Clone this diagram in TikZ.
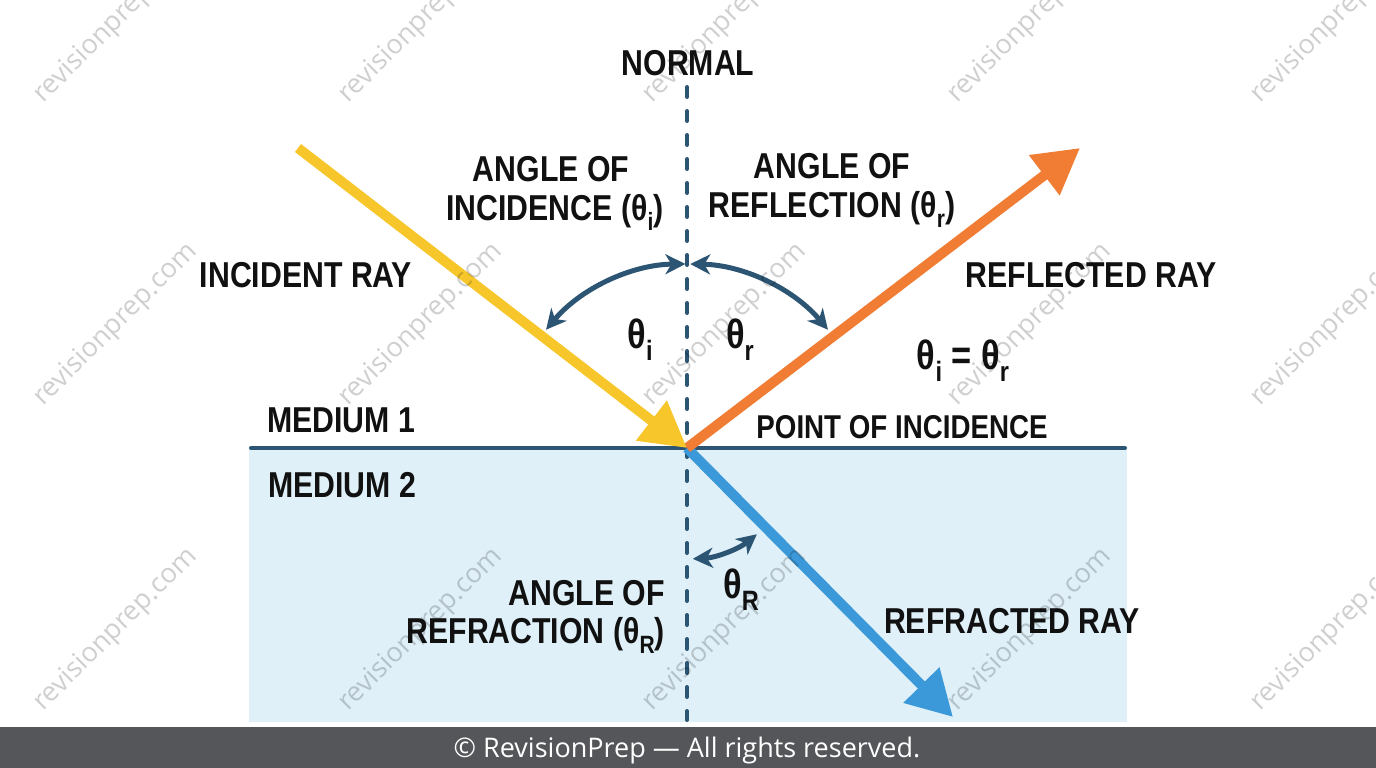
\documentclass[tikz,border=0pt]{standalone}
\usepackage{fontspec}
\setmainfont{Liberation Sans}
\newfontfamily\lblfont[FakeStretch=0.84]{Liberation Sans}
\newfontfamily\wmfont{Open Sans}
\newfontfamily\footfont{Open Sans}
\usetikzlibrary{arrows.meta}
\definecolor{slate}{HTML}{2C5574}
\definecolor{yellowray}{HTML}{F7C62B}
\definecolor{orangeray}{HTML}{F07D33}
\definecolor{blueray}{HTML}{3B99D9}
\definecolor{mediumfill}{HTML}{DFF0F9}
\definecolor{footerbg}{HTML}{55565A}
\definecolor{ink}{HTML}{111111}
\newcommand\lsub[1]{\raisebox{-0.3em}{\fontsize{25}{25}\selectfont #1}}
\newcommand\bsub[1]{\raisebox{-0.3em}{\fontsize{28}{28}\selectfont #1}}
\tikzset{
  lbl/.style={font={\lblfont\bfseries\fontsize{36}{40}\selectfont}, text=ink, inner sep=0pt, anchor=base},
  smalllbl/.style={lbl, font={\lblfont\bfseries\fontsize{33}{38}\selectfont}},
  biglbl/.style={lbl, font={\lblfont\bfseries\fontsize{41}{44}\selectfont}},
  ray/.style={line width=10pt, -{Triangle[length=45pt,width=48pt]}},
  anglearc/.style={draw=slate, line width=5pt, {Stealth[length=20pt,width=20pt,inset=6pt]}-{Stealth[length=20pt,width=20pt,inset=6pt]}},
  normalline/.style={draw=slate, line width=4pt, line cap=round, dash pattern=on 10pt off 14pt},
  surface/.style={draw=slate, line width=4pt, line cap=round},
  wm/.style={font={\wmfont\fontsize{27}{27}\selectfont}, text=black, opacity=0.19, rotate=45, inner sep=0pt},
}
\begin{document}
\begin{tikzpicture}[x=1pt,y=-1pt]
\useasboundingbox (0,0) rectangle (1376,768);
\fill[white] (0,0) rectangle (1376,768);
% medium 2
\fill[mediumfill] (249,449) rectangle (1127,722);
% coordinates
\coordinate (O) at (687,448);
\coordinate (nTop) at (687,87);
\coordinate (nBot) at (687,720);
\coordinate (sL) at (251,448);
\coordinate (sR) at (1125,448);
\coordinate (inS) at (298,148);
\coordinate (rfE) at (1080,148);
\coordinate (rrE) at (953,717);
% normal and surface
\draw[normalline] (nTop) -- (nBot);
\draw[surface] (sL) -- (sR);
% rays
\draw[ray, draw=blueray, fill=blueray] (O) -- (rrE);
\draw[ray, draw=orangeray, fill=orangeray] (O) -- (rfE);
\draw[ray, draw=yellowray, fill=yellowray] (inS) -- (O);
% angle arcs
\draw[anglearc] (O) ++(-90.5:184) arc[start angle=-90.5, end angle=-140, radius=184];
\draw[anglearc] (O) ++(-89:184) arc[start angle=-89, end angle=-40, radius=184];
\draw[anglearc] (O) ++(87:111) arc[start angle=87, end angle=51, radius=111];
% labels
\node[lbl] (normal) at (688,75) {NORMAL};
\node[lbl] (inc1) at (551,181) {ANGLE OF};
\node[lbl] (inc2) at (555,220) {INCIDENCE (θ\lsub{i})};
\node[lbl] (ref1) at (832,178) {ANGLE OF};
\node[lbl] (ref2) at (832,217) {REFLECTION (θ\lsub{r})};
\node[lbl] (incray) at (306,287) {INCIDENT RAY};
\node[lbl] (reflray) at (1091,287) {REFLECTED RAY};
\node[biglbl] (thi) at (640,348) {θ\bsub{i}};
\node[biglbl] (thr) at (740,348) {θ\bsub{r}};
\node[biglbl] (eq) at (963,369) {θ\bsub{i} = θ\bsub{r}};
\node[lbl] (med1) at (341,432) {MEDIUM 1};
\node[smalllbl] (poi) at (902,438) {POINT OF INCIDENCE};
\node[lbl] (med2) at (342,497) {MEDIUM 2};
\node[lbl, anchor=base east] (rfa1) at (665,605) {ANGLE OF};
\node[lbl, anchor=base east] (rfa2) at (665,643) {REFRACTION (θ\lsub{R})};
\node[biglbl] (thR) at (741,598) {θ\bsub{R}};
\node[lbl] (refrray) at (1012,633) {REFRACTED RAY};
% watermarks
\foreach \cx in {116,421,725,1030,1333}{
  \foreach \cy in {22,325,630}{
    \node[wm] (wm-\cx-\cy) at (\cx,\cy) {revisionprep.com};
  }
}
% footer
\fill[footerbg] (0,727) rectangle (1376,768);
\node[font={\footfont\fontsize{27}{27}\selectfont}, text=white, inner sep=0pt, anchor=base] (footer) at (687,757) {© RevisionPrep — All rights reserved.};
\end{tikzpicture}
\end{document}
